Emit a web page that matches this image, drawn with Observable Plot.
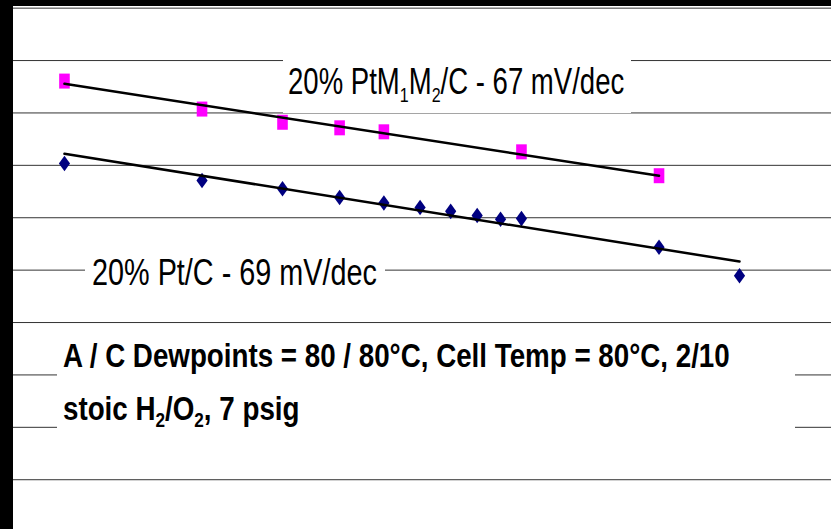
<!DOCTYPE html>
<html>
<head>
<meta charset="utf-8">
<script src="https://cdn.jsdelivr.net/npm/d3@7"></script>
<script src="https://cdn.jsdelivr.net/npm/@observablehq/plot@0.6"></script>
<style>
  html, body { margin: 0; padding: 0; background: #fff; }
  #wrap { position: relative; width: 831px; height: 529px; overflow: hidden; background: #fff; font-family: "Liberation Sans", Arial, sans-serif; }
  #wrap svg { position: absolute; left: 0; top: 0; }
  .bar-top { position: absolute; left: 0; top: 0; width: 831px; height: 6px; background: #000; z-index: 5; }
  .bar-left { position: absolute; left: 0; top: 0; width: 13px; height: 529px; background: #000; z-index: 5; }
  .box { position: absolute; background: #fff; z-index: 2; }
  .lbl { position: absolute; white-space: nowrap; line-height: 1; color: #000; z-index: 3; transform-origin: 0 0; }
  .reg { font-size: 36px; transform: scaleX(0.8); }
  .reg.sub2 { transform: scaleX(0.765); }
  .bold { font-size: 34px; font-weight: bold; transform: scaleX(0.816); }
  .reg sub { font-size: 21px; vertical-align: -8px; line-height: 0; }
  .bold sub { font-size: 21px; vertical-align: -7px; line-height: 0; }
</style>
</head>
<body>
<div id="wrap">
  <div class="bar-top"></div>
  <div class="bar-left"></div>
  <div class="box" style="left:283px; top:40px; width:348px; height:73px;"></div>
  <div class="box" style="left:85px; top:228px; width:300px; height:70px;"></div>
  <div class="box" style="left:57px; top:328px; width:738px; height:140px;"></div>
  <div class="lbl reg sub2" style="left:288px; top:63.5px;">20% PtM<sub>1</sub>M<sub>2</sub>/C - 67 mV/dec</div>
  <div class="lbl reg" style="left:92px; top:255px;">20% Pt/C - 69 mV/dec</div>
  <div class="lbl bold" style="left:62.5px; top:338px;">A / C Dewpoints = 80 / 80°C, Cell Temp = 80°C, 2/10</div>
  <div class="lbl bold" style="left:62.5px; top:391px;">stoic H<sub>2</sub>/O<sub>2</sub>, 7 psig</div>
</div>
<script>
// Current density (mA/cm²), log axis
const ptmCurrent = [10, 20, 30, 40, 50, 100, 200];
// Cell voltage (V) – 20% PtM1M2/C
const ptmVoltage = [0.9304, 0.9037, 0.8911, 0.8858, 0.8820, 0.8629, 0.8401];

const ptCurrent = [10, 20, 30, 40, 50, 60, 70, 80, 90, 100, 200, 300];
// Cell voltage (V) – 20% Pt/C
const ptVoltage = [0.8517, 0.8355, 0.8276, 0.8193, 0.8140, 0.8097, 0.8061, 0.8021, 0.7986, 0.7992, 0.7719, 0.7446];

// Tafel fit lines (endpoints)
const ptmFitCurrent = [10, 200];
const ptmFitVoltage = [0.9278, 0.8400];
const ptFitCurrent = [10, 300];
const ptFitVoltage = [0.8610, 0.7582];

// Horizontal gridlines (V)
const gridVoltages = [0.55, 0.60, 0.65, 0.70, 0.75, 0.80, 0.85, 0.90, 0.95, 1.00];

const zip = (xs, ys) => xs.map((x, i) => ({x, y: ys[i]}));
const ptm = zip(ptmCurrent, ptmVoltage);
const pt = zip(ptCurrent, ptVoltage);
const ptmFit = zip(ptmFitCurrent, ptmFitVoltage);
const ptFit = zip(ptFitCurrent, ptFitVoltage);

const rectSymbol = { draw(ctx) { ctx.moveTo(-5.3, -7.5); ctx.lineTo(5.3, -7.5); ctx.lineTo(5.3, 7.5); ctx.lineTo(-5.3, 7.5); ctx.closePath(); } };
const diamondSymbol = { draw(ctx) { ctx.moveTo(0, -7.8); ctx.lineTo(5.6, 0); ctx.lineTo(0, 7.8); ctx.lineTo(-5.6, 0); ctx.closePath(); } };

const xOpts = { type: "log", domain: [7.245, 476.9], axis: null };
const yOpts = { domain: [0.5025, 1.0073], axis: null };

const chart = Plot.plot({
  width: 831,
  height: 529,
  marginTop: 0, marginBottom: 0, marginLeft: 0, marginRight: 0,
  x: xOpts,
  y: yOpts,
  style: { background: "#fff", overflow: "visible" },
  marks: [
    Plot.ruleY(gridVoltages, { stroke: "#333", strokeWidth: 1 })
  ]
});
const marks = Plot.plot({
  width: 831,
  height: 529,
  marginTop: 0, marginBottom: 0, marginLeft: 0, marginRight: 0,
  x: xOpts,
  y: yOpts,
  style: { background: "transparent", overflow: "visible" },
  marks: [
    Plot.dot(ptm, { x: "x", y: "y", symbol: () => rectSymbol, fill: "#ff00ff", stroke: "none" }),
    Plot.dot(pt, { x: "x", y: "y", symbol: () => diamondSymbol, fill: "#000080", stroke: "none" }),
    Plot.line(ptmFit, { x: "x", y: "y", stroke: "#000", strokeWidth: 2.5 }),
    Plot.line(ptFit, { x: "x", y: "y", stroke: "#000", strokeWidth: 2.5 })
  ]
});
marks.style.zIndex = 4;
const wrap = document.getElementById("wrap");
wrap.insertBefore(chart, wrap.firstChild);
wrap.appendChild(marks);
</script>
</body>
</html>
